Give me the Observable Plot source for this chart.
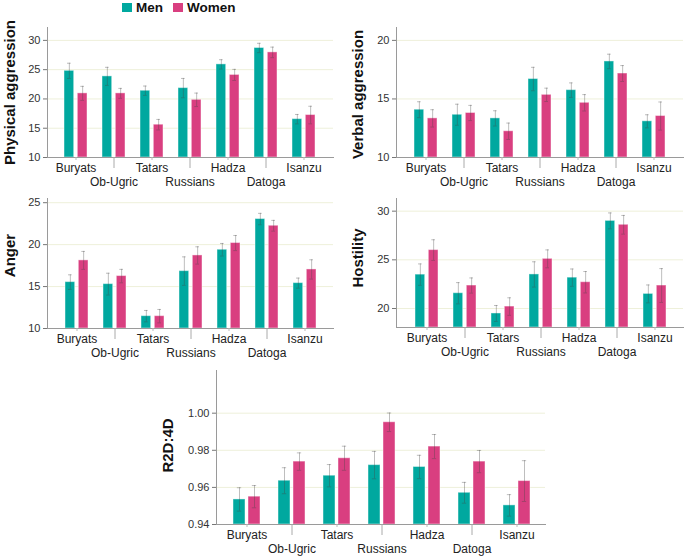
<!DOCTYPE html>
<html>
<head>
<meta charset="utf-8">
<script src="https://cdn.jsdelivr.net/npm/d3@7"></script>
<script src="https://cdn.jsdelivr.net/npm/@observablehq/plot@0.6"></script>
<style>
  body { margin: 0; background: #fff; }
  #root { position: relative; width: 685px; height: 557px; font-family: "Liberation Sans", Arial, sans-serif; overflow: hidden; }
  .panel { position: absolute; }
  .legend { position: absolute; left: 122px; top: 0px; display: flex; align-items: center; font-weight: bold; font-size: 13.5px; color: #111; }
  .legend .item { display: flex; align-items: center; margin-right: 10px; }
  .legend .sw { width: 10px; height: 9px; margin-right: 4px; }
</style>
</head>
<body>
<div id="root"></div>
<script>
// ---------- data ----------
const categories = ["Buryats", "Ob-Ugric", "Tatars", "Russians", "Hadza", "Datoga", "Isanzu"];
const sexes = ["Men", "Women"];
const sexColors = ["#00a89f", "#d93f80"];

const physMen      = [24.8, 23.85, 21.4, 21.85, 25.9, 28.7, 16.55];
const physMenErr   = [1.3, 1.55, 0.8, 1.65, 0.8, 0.8, 0.8];
const physWomen    = [20.95, 20.95, 15.6, 19.85, 24.1, 27.95, 17.25];
const physWomenErr = [1.2, 0.85, 0.9, 1.15, 0.95, 0.9, 1.5];
const physTicks    = [10, 15, 20, 25, 30];

const verbMen      = [14.08, 13.65, 13.34, 16.7, 15.75, 18.2, 13.09];
const verbMenErr   = [0.68, 0.9, 0.65, 1.0, 0.62, 0.62, 0.56];
const verbWomen    = [13.34, 13.8, 12.24, 15.35, 14.67, 17.17, 13.54];
const verbWomenErr = [0.74, 0.65, 0.7, 0.57, 0.7, 0.68, 1.2];
const verbTicks    = [10, 15, 20];

const angMen       = [15.53, 15.29, 11.47, 16.84, 19.39, 23.05, 15.41];
const angMenErr    = [0.87, 1.3, 0.68, 1.7, 0.75, 0.68, 0.6];
const angWomen     = [18.12, 16.25, 11.47, 18.71, 20.19, 22.25, 17.04];
const angWomenErr  = [1.07, 0.8, 0.8, 1.03, 0.9, 0.64, 1.15];
const angTicks     = [10, 15, 20, 25];

const hosMen       = [23.48, 21.57, 19.49, 23.5, 23.17, 29.0, 21.5];
const hosMenErr    = [1.1, 1.09, 0.82, 1.3, 0.89, 0.82, 0.92];
const hosWomen     = [26.0, 22.36, 20.2, 25.1, 22.7, 28.6, 22.36];
const hosWomenErr  = [1.06, 0.78, 0.9, 0.92, 1.1, 0.96, 1.74];
const hosTicks     = [20, 25, 30];

const digMen       = [0.9535, 0.9636, 0.9663, 0.972, 0.971, 0.9571, 0.9503];
const digMenErr    = [0.0063, 0.007, 0.006, 0.0074, 0.0063, 0.0056, 0.0058];
const digWomen     = [0.955, 0.9739, 0.9757, 0.9951, 0.982, 0.9739, 0.9634];
const digWomenErr  = [0.006, 0.0047, 0.0065, 0.005, 0.0065, 0.006, 0.011];
const digTicks     = [0.94, 0.96, 0.98, 1.00];

// ---------- legend ----------
const root = d3.select("#root");
const legend = root.append("div").attr("class", "legend");
sexes.forEach((s, i) => {
  const it = legend.append("div").attr("class", "item");
  it.append("div").attr("class", "sw").style("background", sexColors[i]);
  it.append("span").text(s);
});

// ---------- panels ----------
const upperLabels = categories.filter((_, i) => i % 2 === 0);
const lowerLabels = categories.filter((_, i) => i % 2 === 1);

function drawPanel(cfg) {
  const rows = categories.flatMap((c, i) => [
    {cat: c, sex: sexes[0], v: cfg.men[i], e: cfg.menErr[i]},
    {cat: c, sex: sexes[1], v: cfg.women[i], e: cfg.womenErr[i]}
  ]);
  const n = categories.length;
  const innerW = cfg.width - cfg.marginLeft - cfg.marginRight;
  const bandRange = innerW - cfg.insetLeft - cfg.insetRight;
  const bw = 2 * cfg.barW + cfg.gap;
  const step = (bandRange - bw) / (n - 1);
  const pi = 1 - bw / step;
  const off = bw / 2 - cfg.barW / 2;
  const capHalf = 2;
  const menRows = rows.filter(d => d.sex === sexes[0]);
  const womenRows = rows.filter(d => d.sex === sexes[1]);
  const y0 = cfg.yDomain[0];
  const errStyle = {stroke: "#444", strokeOpacity: 0.35, strokeWidth: 1};

  const chart = Plot.plot({
    width: cfg.width,
    height: cfg.height,
    marginLeft: cfg.marginLeft,
    marginRight: cfg.marginRight,
    marginTop: cfg.marginTop,
    marginBottom: cfg.marginBottom,
    style: {fontFamily: '"Liberation Sans", Arial, sans-serif', background: "transparent", overflow: "visible"},
    x: {domain: categories, paddingInner: pi, paddingOuter: 0, insetLeft: cfg.insetLeft, insetRight: cfg.insetRight},
    y: {domain: cfg.yDomain},
    marks: [
      Plot.gridY(cfg.ticks, {stroke: "#eef0da", strokeOpacity: 1}),
      Plot.barY(menRows, {x: "cat", y1: y0, y2: "v", fill: sexColors[0], insetRight: bw - cfg.barW, stroke: "#ffffff", strokeOpacity: 0.45, strokeWidth: 1}),
      Plot.barY(womenRows, {x: "cat", y1: y0, y2: "v", fill: sexColors[1], insetLeft: bw - cfg.barW, stroke: "#ffffff", strokeOpacity: 0.45, strokeWidth: 1}),
      Plot.ruleX(menRows, {x: "cat", y1: d => d.v - d.e, y2: d => d.v + d.e, dx: -off, ...errStyle}),
      Plot.ruleX(womenRows, {x: "cat", y1: d => d.v - d.e, y2: d => d.v + d.e, dx: off, ...errStyle}),
      Plot.tickY(menRows, {x: "cat", y: d => d.v + d.e, insetLeft: cfg.barW / 2 - capHalf, insetRight: bw - cfg.barW / 2 - capHalf, ...errStyle}),
      Plot.tickY(womenRows, {x: "cat", y: d => d.v + d.e, insetLeft: bw - cfg.barW / 2 - capHalf, insetRight: cfg.barW / 2 - capHalf, ...errStyle}),
      Plot.tickY(menRows, {x: "cat", y: d => d.v - d.e, insetLeft: cfg.barW / 2 - capHalf, insetRight: bw - cfg.barW / 2 - capHalf, ...errStyle}),
      Plot.tickY(womenRows, {x: "cat", y: d => d.v - d.e, insetLeft: bw - cfg.barW / 2 - capHalf, insetRight: cfg.barW / 2 - capHalf, ...errStyle}),
      Plot.frame({anchor: "left", stroke: "#9a9a9a"}),
      Plot.frame({anchor: "bottom", stroke: "#9a9a9a"}),
      Plot.axisY(cfg.ticks, {tickSize: 4, tickPadding: 3, tickFormat: cfg.tickFormat, label: null, fontSize: 11, stroke: "#777", fill: "#333"}),
      Plot.axisX(upperLabels, {tickSize: 3, tickPadding: 3, label: null, fontSize: 12, stroke: "#bbb", fill: "#222"}),
      Plot.axisX(lowerLabels, {tickSize: 11, tickPadding: 9, label: null, fontSize: 12, stroke: "#aaa", fill: "#222"}),
      Plot.text([cfg.title], {text: d => d, frameAnchor: "left", textAnchor: "middle", lineAnchor: "middle", rotate: -90, dx: cfg.titleDx, dy: cfg.titleDy, fontSize: 15, fontWeight: "bold", fill: "#111"})
    ]
  });
  const div = root.append("div").attr("class", "panel")
    .style("left", cfg.left + "px").style("top", cfg.top + "px");
  div.node().appendChild(chart);
}

drawPanel({title: "Physical aggression", men: physMen, menErr: physMenErr, women: physWomen, womenErr: physWomenErr,
  ticks: physTicks, yDomain: [10, 32.2], tickFormat: d3.format("d"),
  left: 0, top: 20, width: 333, height: 167, marginLeft: 47, marginRight: 0, marginTop: 7, marginBottom: 30,
  insetLeft: 15, insetRight: 16, barW: 10, gap: 3.3, titleDx: -37, titleDy: 0});

drawPanel({title: "Verbal aggression", men: verbMen, menErr: verbMenErr, women: verbWomen, womenErr: verbWomenErr,
  ticks: verbTicks, yDomain: [10, 21.1], tickFormat: d3.format("d"),
  left: 349, top: 20, width: 334, height: 167, marginLeft: 47, marginRight: 0, marginTop: 7, marginBottom: 30,
  insetLeft: 16, insetRight: 16, barW: 10, gap: 3.3, titleDx: -38, titleDy: 2});

drawPanel({title: "Anger", men: angMen, menErr: angMenErr, women: angWomen, womenErr: angWomenErr,
  ticks: angTicks, yDomain: [10, 25.5], tickFormat: d3.format("d"),
  left: 0, top: 190, width: 333, height: 168, marginLeft: 47, marginRight: 0, marginTop: 8, marginBottom: 30,
  insetLeft: 16, insetRight: 15, barW: 10, gap: 3.3, titleDx: -37, titleDy: -8});

drawPanel({title: "Hostility", men: hosMen, menErr: hosMenErr, women: hosWomen, womenErr: hosWomenErr,
  ticks: hosTicks, yDomain: [18.05, 31.3], tickFormat: d3.format("d"),
  left: 349, top: 190, width: 334, height: 167, marginLeft: 47, marginRight: 0, marginTop: 8, marginBottom: 30,
  insetLeft: 17, insetRight: 15, barW: 10, gap: 3.3, titleDx: -38, titleDy: -5});

drawPanel({title: "R2D:4D", men: digMen, menErr: digMenErr, women: digWomen, womenErr: digWomenErr,
  ticks: digTicks, yDomain: [0.94, 1.023], tickFormat: d3.format(".2f"),
  left: 169, top: 362, width: 376, height: 194, marginLeft: 47, marginRight: 0, marginTop: 8, marginBottom: 32,
  insetLeft: 17, insetRight: 15, barW: 11.7, gap: 3.3, titleDx: -48, titleDy: -2});
</script>
</body>
</html>
